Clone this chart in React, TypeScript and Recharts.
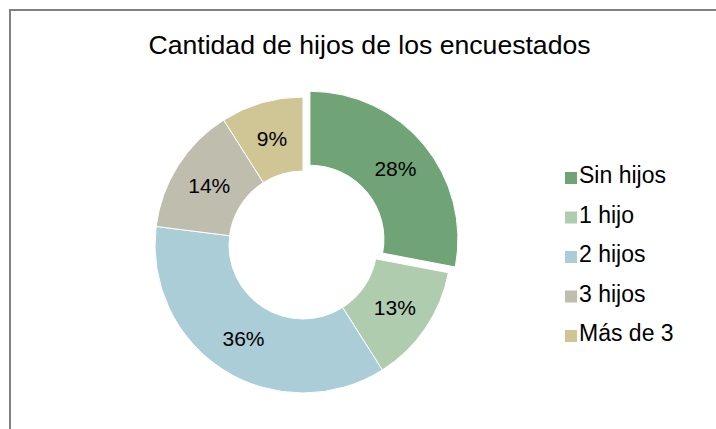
import React from 'react';
import { PieChart, Pie, Cell } from 'recharts';

const categories = ['Sin hijos', '1 hijo', '2 hijos', '3 hijos', 'Más de 3'];
const values = [28, 13, 36, 14, 9];
const colors = ['#70A477', '#B0CCAF', '#AACDD7', '#BFBDAE', '#CFC595'];
const title = 'Cantidad de hijos de los encuestados';
const explodedIndex = 0;

const data = categories.map((name, i) => ({ name, value: values[i] }));

const W = 716;
const H = 429;
const CX = 303;
const CY = 245;
const OUTER = 148;
const INNER = 74;
const EXPLODE = 9;
const START = 90;
const END = -270;
const FONT = '"Liberation Sans", Arial, sans-serif';
const RADIAN = Math.PI / 180;

// mid angle of exploded slice, derived from data
const total = values.reduce((a, b) => a + b, 0);
const before = values.slice(0, explodedIndex).reduce((a, b) => a + b, 0);
const midAngle = START - ((before + values[explodedIndex] / 2) / total) * 360;
const CX2 = CX + EXPLODE * Math.cos(midAngle * RADIAN);
const CY2 = CY - EXPLODE * Math.sin(midAngle * RADIAN);

const makeLabel = (show: (i: number) => boolean) => (props: any) => {
  const { cx, cy, midAngle: ma, innerRadius, outerRadius, index, value } = props;
  if (!show(index)) return null;
  const r = (innerRadius + outerRadius) / 2;
  const x = cx + r * Math.cos(-ma * RADIAN);
  const y = cy + r * Math.sin(-ma * RADIAN);
  return (
    <text
      x={x}
      y={y}
      textAnchor="middle"
      dominantBaseline="central"
      fill="#000"
      style={{ fontFamily: FONT, fontSize: 21 }}
    >
      {`${Math.round((value / total) * 100)}%`}
    </text>
  );
};

const LegendBox = () => (
  <svg width={W} height={H} style={{ position: 'absolute', left: 0, top: 0 }}>
    {categories.map((c, i) => {
      const base = 183 + i * 39.5;
      return (
        <g key={c}>
          <rect x={565} y={base - 11} width={12} height={12} fill={colors[i]} />
          <text x={579} y={base} fill="#000" style={{ fontFamily: FONT, fontSize: 23 }}>
            {c}
          </text>
        </g>
      );
    })}
  </svg>
);

export default function App() {
  return (
    <div
      style={{
        position: 'absolute',
        left: 0,
        top: 0,
        width: W,
        height: H,
        overflow: 'hidden',
        background: '#fff',
      }}
    >
      <div
        style={{
          position: 'absolute',
          left: 9,
          top: 9,
          width: W + 50,
          height: H + 50,
          border: '2px solid #808080',
          boxSizing: 'border-box',
        }}
      />
      <div
        style={{
          position: 'absolute',
          left: 0,
          width: 739,
          top: 27,
          textAlign: 'center',
          fontFamily: FONT,
          fontSize: 26.6,
          lineHeight: '36px',
          color: '#000',
        }}
      >
        {title}
      </div>
      <div style={{ position: 'absolute', left: 0, top: 0 }}>
        <PieChart width={W} height={H} margin={{ top: 0, right: 0, bottom: 0, left: 0 }}>
          <Pie
            data={data}
            dataKey="value"
            nameKey="name"
            cx={CX}
            cy={CY}
            innerRadius={INNER}
            outerRadius={OUTER}
            startAngle={START}
            endAngle={END}
            stroke="#fff"
            strokeWidth={1}
            labelLine={false}
            label={makeLabel((i) => i !== explodedIndex)}
            isAnimationActive={false}
          >
            {data.map((d, i) => (
              <Cell
                key={d.name}
                fill={i === explodedIndex ? 'none' : colors[i]}
                stroke={i === explodedIndex ? 'none' : '#fff'}
              />
            ))}
          </Pie>
          <Pie
            data={data}
            dataKey="value"
            nameKey="name"
            cx={CX2}
            cy={CY2}
            innerRadius={INNER}
            outerRadius={OUTER}
            startAngle={START}
            endAngle={END}
            stroke="#fff"
            strokeWidth={1}
            labelLine={false}
            label={makeLabel((i) => i === explodedIndex)}
            isAnimationActive={false}
          >
            {data.map((d, i) => (
              <Cell
                key={d.name}
                fill={i === explodedIndex ? colors[i] : 'none'}
                stroke={i === explodedIndex ? '#fff' : 'none'}
              />
            ))}
          </Pie>
        </PieChart>
      </div>
      <LegendBox />
    </div>
  );
}
